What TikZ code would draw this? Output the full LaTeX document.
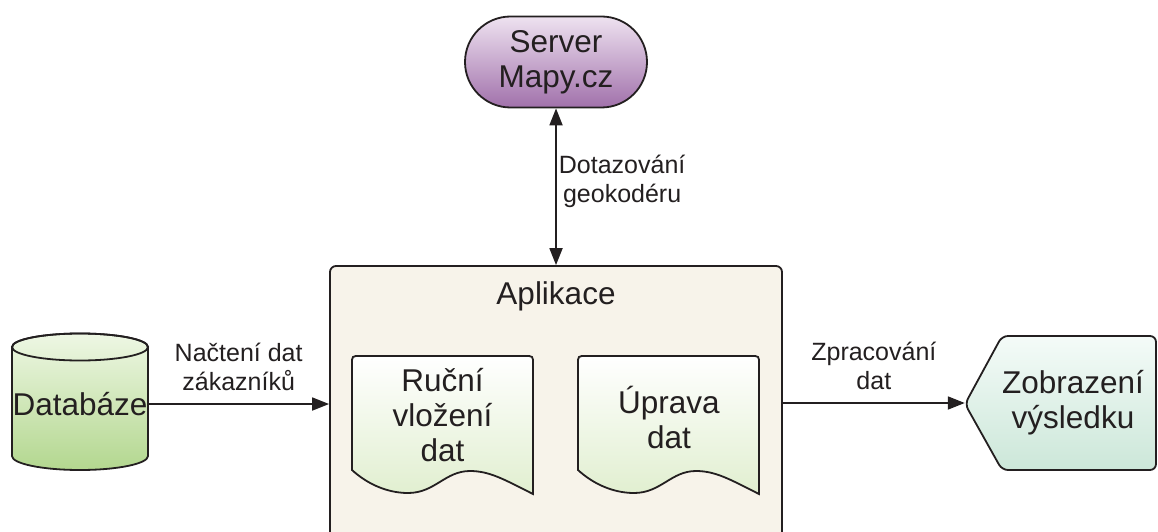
\documentclass[tikz,border=0pt]{standalone}
\usepackage{fontspec}
\setmainfont{Liberation Sans}
\usetikzlibrary{shapes.misc,arrows.meta}

\definecolor{ink}{HTML}{231F20}
\definecolor{srvtop}{HTML}{EEE2F0}
\definecolor{srvbot}{HTML}{A171AB}
\definecolor{dbtop}{HTML}{EEF7E4}
\definecolor{dbbot}{HTML}{B3D78F}
\definecolor{doctop}{HTML}{FFFFFF}
\definecolor{docbot}{HTML}{E1EFD0}
\definecolor{disptop}{HTML}{F4FBF8}
\definecolor{dispbot}{HTML}{CCE7D9}
\definecolor{appfill}{HTML}{F7F3EA}

\tikzset{
  outline/.style={draw=ink, line width=1.8pt},
  bigtext/.style={font=\fontsize{31.5}{35}\selectfont, text=ink, align=center},
  smalltext/.style={font=\fontsize{25}{29}\selectfont, text=ink, align=center},
  flow/.style={draw=ink, line width=1.8pt, -{Triangle[length=17pt,width=13pt]}},
  twoway/.style={draw=ink, line width=1.8pt, {Triangle[length=17pt,width=13pt]}-{Triangle[length=17pt,width=13pt]}},
  pics/docpage/.style={code={
    \path[outline, top color=doctop, bottom color=docbot]
      (0,114) -- (0,8) .. controls (0,0) .. (8,0) -- (173,0)
      .. controls (181,0) .. (181,8) -- (181,138)
      .. controls (153,124) and (138,115) .. (118,115)
      .. controls (93,115) and (83,137) .. (56,137)
      .. controls (33,137) and (13,126) .. (0,114) -- cycle;
  }}
}

\begin{document}
\begin{tikzpicture}[x=1pt, y=-1pt]
\useasboundingbox (0,0) rectangle (1158,532);
\clip (0,0) rectangle (1158,532);

% application frame (runs past the lower edge)
\node[outline, fill=appfill, rounded corners=6, minimum width=452, minimum height=290,
      inner sep=0] (app) at (556,411) {};
\node[bigtext] (apptitle) at (556,296) {Aplikace};

% the two document steps inside the application
\pic at (352,356) {docpage};
\pic at (578,356) {docpage};
\node[bigtext] (manual) at (442.5,415) {Ruční\\vložení\\dat};
\node[bigtext] (edit) at (669,417) {Úprava\\dat};

% geocoding server
\node[rounded rectangle, outline, top color=srvtop, bottom color=srvbot,
      minimum width=182, minimum height=91, inner sep=0, bigtext] (server) at (556,62)
      {Server\\Mapy.cz};

% database cylinder
\path[outline, top color=dbtop, bottom color=dbbot]
  (12,347) -- (12,456) arc[start angle=180, end angle=0, x radius=68, y radius=14]
  -- (148,347) arc[start angle=0, end angle=-180, x radius=68, y radius=13.5] -- cycle;
\draw[outline] (80,347) ellipse[x radius=68, y radius=13.5];
\node[minimum width=136, minimum height=137, inner sep=0, bigtext] (db) at (80,404) {Databáze};

% result display
\path[outline, top color=disptop, bottom color=dispbot, rounded corners=6]
  (965,404) -- (1002,336) -- (1156,336) -- (1156,470) -- (1002,470) -- cycle;
\node[minimum width=216, minimum height=134, inner sep=0, bigtext] (disp) at (1073,403)
  {Zobrazení\\výsledku};

% connectors
\draw[twoway] (server.south) -- (app.north)
  node[midway, right, inner sep=2pt, yshift=5pt, smalltext] {Dotazování\\geokodéru};
\draw[flow] (db.east) -- (db.east -| app.west)
  node[midway, above, inner sep=12pt, smalltext] {Načtení dat\\zákazníků};
\draw[flow] (app.east |- disp.west) -- (disp.west)
  node[midway, above, inner sep=12pt, smalltext] {Zpracování\\dat};
\end{tikzpicture}
\end{document}
